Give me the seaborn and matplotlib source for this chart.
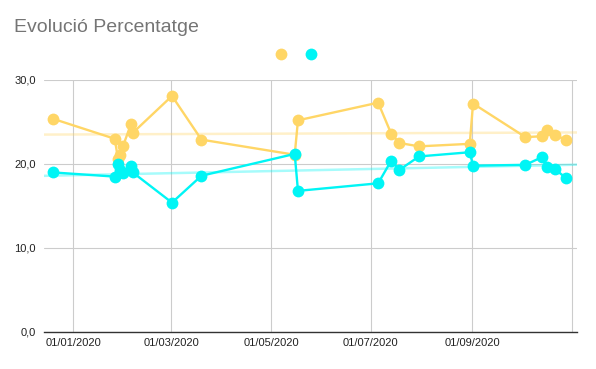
import pandas as pd
import matplotlib
matplotlib.use('Agg')
import matplotlib.pyplot as plt
import matplotlib.dates as mdates
from matplotlib.lines import Line2D
from matplotlib.ticker import FuncFormatter
import seaborn as sns

# data
dates = ['2019-12-19', '2020-01-26', '2020-01-28', '2020-01-29', '2020-01-31',
         '2020-02-05', '2020-02-06', '2020-03-01', '2020-03-19', '2020-05-15',
         '2020-05-17', '2020-07-05', '2020-07-13', '2020-07-18', '2020-07-30',
         '2020-08-30', '2020-09-01', '2020-10-03', '2020-10-13', '2020-10-16',
         '2020-10-21', '2020-10-28']
serie_groc = [25.4, 23.0, 20.6, 21.1, 22.1, 24.8, 23.7, 28.1, 22.9, 21.1, 25.2,
              27.3, 23.6, 22.5, 22.1, 22.4, 27.2, 23.2, 23.3, 24.0, 23.4, 22.9]
serie_cian = [19.0, 18.5, 20.0, 19.3, 18.9, 19.8, 19.0, 15.4, 18.6, 21.2, 16.8,
              17.7, 20.4, 19.3, 20.9, 21.4, 19.8, 19.9, 20.8, 19.7, 19.4, 18.3]

groc = '#ffd666'
cian = '#00f5f5'

df = pd.DataFrame({'data': pd.to_datetime(dates), 'groc': serie_groc, 'cian': serie_cian})
df['x'] = mdates.date2num(df['data'] + pd.Timedelta(hours=12))

sns.set_style('white')
plt.rcParams['font.family'] = ['Liberation Sans', 'DejaVu Sans']

fig = plt.figure(figsize=(5.96, 3.69), dpi=100)
ax = fig.add_axes([0.074, 0.1003, 0.894, 0.6829])

x0 = mdates.date2num(pd.Timestamp('2019-12-14 08:00'))
x1 = mdates.date2num(pd.Timestamp('2020-11-04'))
ax.set_xlim(x0, x1)
ax.set_ylim(0, 30)

# trendlines first, below the series
sns.regplot(data=df, x='x', y='groc', scatter=False, ci=None, truncate=False, ax=ax,
            line_kws={'color': groc, 'alpha': 0.35, 'lw': 1.8, 'zorder': 2})
sns.regplot(data=df, x='x', y='cian', scatter=False, ci=None, truncate=False, ax=ax,
            line_kws={'color': cian, 'alpha': 0.35, 'lw': 1.8, 'zorder': 2})

sns.lineplot(data=df, x='x', y='groc', sort=False, color=groc, marker='o',
             markersize=8.5, markeredgewidth=0, lw=1.7, ax=ax, zorder=3)
sns.lineplot(data=df, x='x', y='cian', sort=False, color=cian, marker='o',
             markersize=8.5, markeredgewidth=0, lw=1.7, ax=ax, zorder=4)

ax.set_xlim(x0, x1)
ax.set_ylim(0, 30)

ax.xaxis.set_major_locator(mdates.MonthLocator(bymonth=[1, 3, 5, 7, 9, 11]))
ax.xaxis.set_major_formatter(FuncFormatter(
    lambda v, p: '' if mdates.num2date(v).month == 11 else mdates.num2date(v).strftime('%d/%m/%Y')))
ax.set_yticks([0, 10, 20, 30])
ax.yaxis.set_major_formatter(FuncFormatter(lambda v, p: f'{v:.1f}'.replace('.', ',')))

ax.grid(True, color='#cccccc', lw=0.8)
ax.set_axisbelow(True)
for s in ['top', 'right', 'left']:
    ax.spines[s].set_visible(False)
ax.spines['bottom'].set_color('#333333')
ax.spines['bottom'].set_linewidth(1.0)
ax.tick_params(axis='both', length=0, labelsize=8, labelcolor='#222222')
ax.tick_params(axis='x', pad=4)
ax.tick_params(axis='y', pad=6)
ax.set_xlabel('')
ax.set_ylabel('')

fig.text(14 / 596, 1 - 28 / 369, 'Evolució Percentatge', fontsize=14, color='#757575',
         ha='left', va='center')

handles = [Line2D([], [], ls='none', marker='o', markersize=8.5, color=groc, markeredgewidth=0),
           Line2D([], [], ls='none', marker='o', markersize=8.5, color=cian, markeredgewidth=0)]
fig.legend(handles, ['', ''], ncol=2, loc='center', bbox_to_anchor=(296 / 596, 1 - 55 / 369),
           frameon=False, handlelength=1, handletextpad=0, columnspacing=1.2)

plt.savefig('out.png', dpi=100)
